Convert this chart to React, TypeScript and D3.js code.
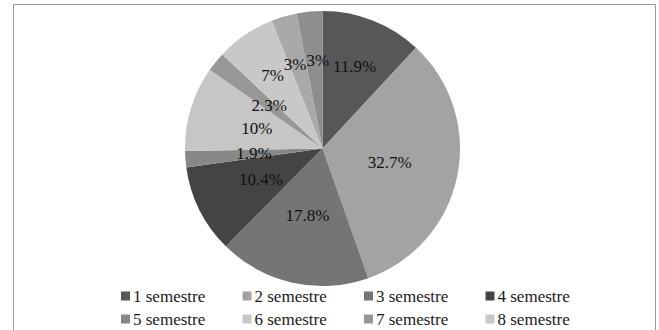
import React from "react";
import * as d3 from "d3";

// Share of respondents by semester (percent)
const categories = [
  "1 semestre", "2 semestre", "3 semestre", "4 semestre", "5 semestre",
  "6 semestre", "7 semestre", "8 semestre", "9 semestre", "10 semestre",
];
const shares = [11.9, 32.7, 17.8, 10.4, 1.9, 10, 2.3, 7, 3, 3];
const valueLabels = ["11.9%", "32.7%", "17.8%", "10.4%", "1.9%", "10%", "2.3%", "7%", "3%", "3%"];
const fills = [
  "#575757", "#a3a3a3", "#757575", "#444444", "#888888",
  "#c6c6c6", "#979797", "#c8c8c8", "#a9a9a9", "#8e8e8e",
];

const W = 659;
const H = 330;
const cx = 322.5;
const cy = 148.5;
const R = 137.5;
const FONT = "'Liberation Serif'";
const FONT_SIZE = 17;

function textWidth(s: string): number {
  const ctx = document.createElement("canvas").getContext("2d");
  if (!ctx) return s.length * FONT_SIZE * 0.5;
  ctx.font = `${FONT_SIZE}px ${FONT}`;
  return ctx.measureText(s).width;
}

export default function App() {
  const pie = d3.pie<number>().sort(null).value((d) => d);
  const arcs = pie(shares);
  const arc = d3.arc<d3.PieArcDatum<number>>().innerRadius(0).outerRadius(R);

  // labels near the top of the pie sit farther out, the rest closer to the centre
  const labels = arcs.map((a, i) => {
    const mid = (a.startAngle + a.endAngle) / 2;
    const fromTop = Math.min(mid, 2 * Math.PI - mid);
    const rho = fromTop < Math.PI / 4 ? 0.64 * R : 0.5 * R;
    return {
      text: valueLabels[i],
      x: Math.sin(mid) * rho,
      y: -Math.cos(mid) * rho,
      w: textWidth(valueLabels[i]),
    };
  });

  // push neighbouring labels apart sideways when they collide
  for (let pass = 0; pass < 3; pass++) {
    for (let i = 0; i < labels.length; i++) {
      const a = labels[i];
      const b = labels[(i + 1) % labels.length];
      if (Math.abs(a.y - b.y) > FONT_SIZE * 0.9) continue;
      const overlap = (a.w + b.w) / 2 - Math.abs(a.x - b.x);
      if (overlap > 0) {
        const dir = a.x < b.x ? -1 : 1;
        a.x += (dir * overlap) / 2;
        b.x -= (dir * overlap) / 2;
      }
    }
  }

  // legend: four columns, only the rows that fit inside the frame
  const legendCols = 4;
  const legendRows = 2;
  const colX = d3.scaleLinear().domain([0, 1]).range([121, 242.5]);
  const rowY = d3.scaleLinear().domain([0, 1]).range([296, 319]);
  const legendItems = categories.slice(0, legendCols * legendRows);

  return (
    <div style={{ position: "fixed", left: 0, top: 0 }}>
      <svg width={W} height={H} style={{ display: "block", background: "#fff" }}>
        <path d={`M13.5,${H} V4.5 H655.5 V${H}`} fill="none" stroke="#9a9a9a" strokeWidth={1} />
        <g transform={`translate(${cx},${cy})`}>
          {arcs.map((a, i) => (
            <path key={i} d={arc(a) ?? ""} fill={fills[i]} />
          ))}
          {labels.map((l, i) => (
            <text
              key={i}
              x={l.x}
              y={l.y}
              textAnchor="middle"
              dominantBaseline="central"
              style={{ fontFamily: FONT, fontSize: FONT_SIZE }}
              fill="#111"
            >
              {l.text}
            </text>
          ))}
        </g>
        <g>
          {legendItems.map((c, i) => {
            const col = i % legendCols;
            const row = Math.floor(i / legendCols);
            return (
              <g key={c} transform={`translate(${colX(col)},${rowY(row)})`}>
                <rect x={0} y={-4.5} width={9} height={9} fill={fills[i]} />
                <text
                  x={12}
                  y={0}
                  dominantBaseline="central"
                  style={{ fontFamily: FONT, fontSize: FONT_SIZE }}
                  fill="#1a1a1a"
                >
                  {c}
                </text>
              </g>
            );
          })}
        </g>
      </svg>
    </div>
  );
}
